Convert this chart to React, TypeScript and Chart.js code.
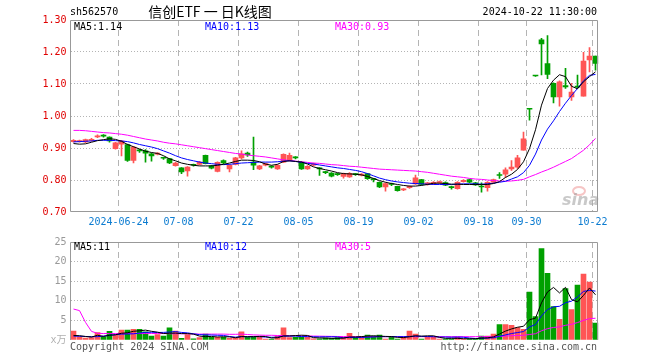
import React, { useEffect, useRef } from 'react';
import { Chart, registerables } from 'chart.js';

Chart.register(...registerables);

// ---------------- data ----------------
const stockCode = 'sh562570';
const chartTitle = '信创ETF 一 日K线图';
const timestamp = '2024-10-22 11:30:00';
const copyrightText = 'Copyright 2024 SINA.COM';
const urlText = 'http://finance.sina.com.cn';

const dates = [
  '06-12','06-13','06-14','06-17','06-18','06-19','06-20','06-21','06-24','06-25','06-26','06-27','06-28',
  '07-01','07-02','07-03','07-04','07-05','07-08','07-09','07-10','07-11','07-12','07-15','07-16','07-17','07-18','07-19','07-22','07-23','07-24','07-25','07-26','07-29','07-30','07-31',
  '08-01','08-02','08-05','08-06','08-07','08-08','08-09','08-12','08-13','08-14','08-15','08-16','08-19','08-20','08-21','08-22','08-23','08-26','08-27','08-28','08-29','08-30',
  '09-02','09-03','09-04','09-05','09-06','09-09','09-10','09-11','09-12','09-13','09-18','09-19','09-20','09-23','09-24','09-25','09-26','09-27','09-30',
  '10-08','10-09','10-10','10-11','10-14','10-15','10-16','10-17','10-18','10-21','10-22',
];

const tickDates = ['06-24','07-08','07-22','08-05','08-19','09-02','09-18','09-30','10-22'];
const tickLabels = ['2024-06-24','07-08','07-22','08-05','08-19','09-02','09-18','09-30','10-22'];

const open = [
  0.920,0.920,0.919,0.924,0.935,0.938,0.934,0.898,0.912,0.911,
  0.861,0.892,0.891,0.882,0.881,0.869,0.867,0.845,0.838,0.828,
  0.847,0.849,0.877,0.844,0.827,0.861,0.835,0.849,0.869,0.884,
  0.856,0.835,0.846,0.841,0.835,0.856,0.861,0.870,0.856,0.835,
  0.846,0.836,0.824,0.822,0.818,0.811,0.810,0.818,0.815,0.820,
  0.802,0.793,0.778,0.787,0.780,0.769,0.776,0.788,0.801,0.786,
  0.788,0.792,0.792,0.777,0.773,0.795,0.801,0.791,0.779,0.776,
  0.793,0.815,0.818,0.835,0.840,0.893,1.022,1.126,1.238,1.164,
  1.102,1.060,1.095,1.060,1.093,1.062,1.175,1.187,
];
const close = [
  0.924,0.923,0.926,0.927,0.938,0.937,0.922,0.916,0.922,0.861,
  0.903,0.891,0.884,0.875,0.882,0.868,0.853,0.853,0.825,0.840,
  0.846,0.856,0.851,0.837,0.855,0.853,0.846,0.869,0.882,0.878,
  0.846,0.844,0.851,0.840,0.846,0.880,0.877,0.869,0.835,0.843,
  0.851,0.835,0.823,0.812,0.817,0.820,0.821,0.817,0.818,0.804,
  0.801,0.778,0.789,0.786,0.767,0.770,0.780,0.807,0.786,0.791,
  0.793,0.793,0.784,0.776,0.793,0.799,0.793,0.785,0.778,0.793,
  0.801,0.814,0.832,0.840,0.869,0.929,1.021,1.125,1.225,1.130,
  1.060,1.107,1.091,1.075,1.090,1.172,1.187,1.164,
];
const high = [
  0.926,0.925,0.928,0.930,0.941,0.942,0.935,0.918,0.924,0.912,
  0.905,0.896,0.895,0.884,0.886,0.872,0.868,0.855,0.839,0.842,
  0.850,0.858,0.878,0.846,0.857,0.863,0.848,0.871,0.891,0.887,
  0.934,0.846,0.853,0.844,0.848,0.882,0.884,0.873,0.858,0.845,
  0.853,0.839,0.827,0.823,0.821,0.822,0.823,0.820,0.820,0.821,
  0.805,0.794,0.791,0.790,0.781,0.773,0.782,0.815,0.802,0.793,
  0.795,0.797,0.794,0.781,0.795,0.801,0.803,0.793,0.791,0.795,
  0.803,0.823,0.838,0.861,0.877,0.950,1.022,1.126,1.243,1.251,
  1.104,1.110,1.149,1.102,1.128,1.199,1.214,1.187,
];
const low = [
  0.918,0.918,0.917,0.921,0.932,0.934,0.918,0.896,0.875,0.858,
  0.853,0.886,0.856,0.859,0.878,0.864,0.851,0.843,0.820,0.812,
  0.843,0.847,0.850,0.835,0.825,0.851,0.825,0.847,0.866,0.874,
  0.832,0.832,0.844,0.837,0.833,0.854,0.859,0.866,0.833,0.833,
  0.844,0.814,0.820,0.810,0.814,0.806,0.808,0.814,0.813,0.802,
  0.794,0.776,0.765,0.782,0.765,0.767,0.774,0.786,0.784,0.784,
  0.786,0.789,0.782,0.771,0.771,0.793,0.791,0.783,0.762,0.765,
  0.791,0.805,0.808,0.830,0.836,0.893,0.987,1.124,1.128,1.117,
  1.041,1.031,1.086,1.049,1.088,1.062,1.138,1.143,
];

const ma5 = [
  0.914,0.912,0.913,0.918,0.923,0.926,0.929,0.927,0.921,0.911,
  0.904,0.897,0.890,0.886,0.883,0.876,0.866,0.860,0.853,0.849,
  0.846,0.844,0.844,0.844,0.846,0.849,0.853,0.858,0.862,0.862,
  0.861,0.857,0.850,0.846,0.849,0.858,0.860,0.858,0.856,0.850,
  0.841,0.836,0.832,0.828,0.823,0.820,0.819,0.818,0.816,0.811,
  0.805,0.798,0.793,0.789,0.786,0.783,0.781,0.781,0.783,0.786,
  0.790,0.790,0.789,0.787,0.787,0.786,0.786,0.786,0.786,0.786,
  0.789,0.795,0.808,0.818,0.833,0.857,0.898,0.957,1.034,1.086,
  1.112,1.129,1.123,1.093,1.085,1.107,1.123,1.138,
];
const ma10 = [
  0.919,0.920,0.921,0.922,0.924,0.924,0.924,0.923,0.922,0.920,
  0.916,0.911,0.907,0.903,0.898,0.891,0.884,0.876,0.869,0.864,
  0.860,0.856,0.853,0.851,0.849,0.848,0.849,0.851,0.853,0.854,
  0.855,0.856,0.856,0.856,0.857,0.859,0.860,0.858,0.855,0.852,
  0.850,0.847,0.844,0.841,0.838,0.836,0.833,0.830,0.826,0.820,
  0.813,0.806,0.801,0.797,0.794,0.792,0.790,0.789,0.788,0.787,
  0.786,0.786,0.786,0.786,0.787,0.788,0.788,0.788,0.787,0.788,
  0.790,0.793,0.796,0.803,0.810,0.823,0.846,0.881,0.925,0.959,
  0.985,1.014,1.040,1.064,1.086,1.110,1.127,1.130,
];
const ma30 = [
  0.955,0.955,0.954,0.952,0.950,0.948,0.947,0.945,0.943,0.940,
  0.936,0.932,0.928,0.925,0.922,0.918,0.915,0.913,0.910,0.907,
  0.904,0.901,0.898,0.895,0.892,0.889,0.886,0.883,0.881,0.878,
  0.876,0.874,0.872,0.869,0.866,0.863,0.861,0.859,0.857,0.855,
  0.853,0.852,0.850,0.848,0.847,0.845,0.843,0.842,0.840,0.838,
  0.836,0.834,0.833,0.832,0.831,0.830,0.829,0.828,0.826,0.824,
  0.821,0.818,0.815,0.812,0.810,0.808,0.805,0.803,0.802,0.800,
  0.798,0.797,0.796,0.797,0.799,0.802,0.810,0.817,0.825,0.832,
  0.840,0.849,0.858,0.867,0.880,0.893,0.910,0.930,
];

const volume = [
  2.25,0.8,0.5,0.6,1.9,0.8,2.2,1.2,2.5,2.5,
  2.75,2.75,2.1,1.0,1.4,1.0,3.1,2.25,0.4,1.4,
  0.33,0.6,1.5,0.7,0.7,0.7,0.4,0.4,2.1,0.7,
  0.7,0.7,0.25,0.25,1.0,3.1,0.6,0.7,0.7,0.7,
  0.3,0.3,0.5,0.4,0.6,0.67,1.67,0.58,0.83,1.25,
  1.0,1.25,0.25,0.67,0.25,0.67,2.25,1.5,0.25,0.67,
  0.67,0.25,0.25,0.25,0.67,0.25,0.25,0.25,1.0,1.0,
  1.5,3.92,3.92,3.75,3.17,2.75,12.25,6.0,23.3,17.0,
  8.5,5.25,13.1,7.75,14.0,16.8,14.75,4.33,
];
const volMa5 = [
  1.17,1.1,0.9,0.75,1.21,0.92,1.2,1.34,1.72,1.84,
  2.23,2.34,2.52,2.22,2.0,1.65,1.72,1.75,1.63,1.63,
  1.5,1.0,0.85,0.91,0.77,0.84,0.8,0.58,0.86,0.86,
  0.86,0.92,0.89,0.52,0.58,1.06,1.04,1.13,1.22,1.16,
  0.6,0.54,0.5,0.44,0.42,0.49,0.77,0.78,0.87,1.0,
  1.07,0.98,0.92,0.88,0.68,0.62,0.82,1.07,0.98,1.07,
  1.07,0.67,0.42,0.42,0.42,0.33,0.33,0.33,0.48,0.55,
  0.8,1.53,2.27,2.82,3.25,3.5,5.17,5.58,9.49,12.26,
  13.41,12.01,13.43,10.32,9.72,11.38,13.28,11.53,
];
const volMa10 = [
  1.0,0.95,0.9,0.85,0.85,1.0,1.2,1.35,1.5,1.53,
  1.58,1.77,1.93,1.97,1.92,1.94,2.03,2.14,1.93,1.82,
  1.58,1.36,1.3,1.27,1.2,1.17,0.9,0.72,0.89,0.82,
  0.85,0.86,0.74,0.69,0.72,0.96,0.98,1.01,0.87,0.87,
  0.83,0.79,0.82,0.83,0.79,0.55,0.66,0.64,0.66,0.71,
  0.78,0.88,0.85,0.88,0.84,0.85,0.9,1.0,0.93,0.88,
  0.85,0.75,0.75,0.7,0.75,0.7,0.5,0.38,0.45,0.49,
  0.57,0.93,1.3,1.65,1.9,2.15,3.35,3.93,6.16,7.76,
  8.46,8.59,9.51,9.91,10.99,12.4,12.65,12.48,
];
const volMa30 = [
  7.9,7.5,4.5,2.2,1.7,1.65,1.65,1.65,1.65,1.65,
  1.65,1.65,1.65,1.65,1.65,1.65,1.6,1.6,1.6,1.6,
  1.55,1.5,1.5,1.5,1.5,1.5,1.45,1.45,1.5,1.4,
  1.3,1.25,1.2,1.2,1.15,1.15,1.1,1.1,1.05,1.05,
  1.0,0.98,0.95,0.92,0.9,0.88,0.87,0.86,0.85,0.85,
  0.85,0.85,0.85,0.85,0.85,0.85,0.85,0.85,0.85,0.85,
  0.85,0.85,0.85,0.85,0.85,0.85,0.85,0.85,0.85,0.85,
  0.85,0.9,1.0,1.1,1.15,1.2,1.4,1.6,2.35,2.9,
  3.2,3.35,3.75,4.0,4.45,5.0,5.45,5.55,
];

// ---------------- style ----------------
const MONO = '"DejaVu Sans Mono", "Noto Sans CJK SC", monospace';
const UP = '#ff5555';
const DOWN = '#00a000';
const GRID = '#b4b4b4';
const FRAME = '#999999';
const C_MA5 = '#000000';
const C_MA10 = '#0000ff';
const C_MA30 = '#ff00ff';

const tickIndex = tickDates.map((d) => dates.indexOf(d));
const candleColors = dates.map((_, i) => (close[i] >= open[i] ? UP : DOWN));
const last = dates.length - 1;

function xScale(showLabels: boolean) {
  return {
    type: 'linear',
    min: -0.5,
    max: dates.length - 0.5,
    offset: false,
    grid: { offset: false, color: GRID, lineWidth: 1, drawTicks: false },
    border: { display: false, dash: [6, 4] },
    afterBuildTicks: (s: any) => {
      s.ticks = tickIndex.map((i) => ({ value: i - 0.5 }));
    },
    afterFit: (s: any) => {
      s.height = 20;
    },
    ticks: {
      display: showLabels,
      autoSkip: false,
      maxRotation: 0,
      padding: 4,
      color: '#0b7bd0',
      font: { family: MONO, size: 10 },
      callback: (_v: any, idx: number) => tickLabels[idx],
    },
  };
}

function lineDs(values: number[], color: string) {
  return {
    type: 'line',
    data: values.map((v, i) => ({ x: i, y: v })),
    borderColor: color,
    borderWidth: 1,
    pointRadius: 0,
    fill: false,
    tension: 0,
    order: 0,
  };
}

function drawFrame(ctx: CanvasRenderingContext2D, ca: any, bottom: boolean) {
  const l = Math.floor(ca.left) + 0.5;
  const r = Math.floor(ca.right) - 0.5;
  const t = Math.floor(ca.top) + 0.5;
  const b = Math.floor(ca.bottom) - 0.5;
  ctx.save();
  ctx.strokeStyle = FRAME;
  ctx.lineWidth = 1;
  ctx.beginPath();
  ctx.moveTo(l, bottom ? b : ca.bottom);
  ctx.lineTo(l, t);
  ctx.lineTo(r, t);
  ctx.lineTo(r, bottom ? b : ca.bottom);
  if (bottom) ctx.lineTo(l, b);
  ctx.stroke();
  ctx.restore();
}

const mainOverlay = {
  id: 'mainOverlay',
  beforeDatasetsDraw(chart: any) {
    const { ctx } = chart;
    ctx.save();
    ctx.strokeStyle = 'rgba(238,150,150,0.55)';
    ctx.lineWidth = 2;
    ctx.beginPath();
    ctx.ellipse(579, 191, 6, 4, 0, 0, Math.PI * 2);
    ctx.stroke();
    ctx.font = 'italic bold 16px "DejaVu Sans"';
    ctx.fillStyle = 'rgba(165,165,165,0.6)';
    ctx.textAlign = 'left';
    ctx.textBaseline = 'alphabetic';
    ctx.fillText('sina', 562, 205);
    ctx.restore();
  },
  afterDraw(chart: any) {
    const { ctx, chartArea } = chart;
    drawFrame(ctx, chartArea, true);
    ctx.save();
    ctx.textBaseline = 'middle';
    ctx.fillStyle = '#000';
    ctx.font = `10px ${MONO}`;
    ctx.textAlign = 'left';
    ctx.fillText(stockCode, 70, 12);
    ctx.textAlign = 'right';
    ctx.fillText(timestamp, 597, 12);
    ctx.font = '14px "Noto Sans CJK SC"';
    ctx.textAlign = 'center';
    ctx.fillText(chartTitle, 210, 12);
    ctx.font = `10px ${MONO}`;
    ctx.textAlign = 'left';
    ctx.fillStyle = C_MA5;
    ctx.fillText(`MA5:${ma5[last].toFixed(2)}`, 74, 27);
    ctx.fillStyle = C_MA10;
    ctx.fillText(`MA10:${ma10[last].toFixed(2)}`, 205, 27);
    ctx.fillStyle = C_MA30;
    ctx.fillText(`MA30:${ma30[last].toFixed(2)}`, 335, 27);
    ctx.restore();
  },
};

const volOverlay = {
  id: 'volOverlay',
  afterDraw(chart: any) {
    const { ctx, chartArea } = chart;
    drawFrame(ctx, chartArea, false);
    ctx.save();
    ctx.textBaseline = 'middle';
    ctx.font = `10px ${MONO}`;
    ctx.textAlign = 'left';
    ctx.fillStyle = C_MA5;
    ctx.fillText(`MA5:${Math.floor(volMa5[last])}`, 74, 15);
    ctx.fillStyle = C_MA10;
    ctx.fillText(`MA10:${Math.floor(volMa10[last])}`, 205, 15);
    ctx.fillStyle = C_MA30;
    ctx.fillText(`MA30:${Math.floor(volMa30[last])}`, 335, 15);
    ctx.fillStyle = '#555';
    ctx.fillText(copyrightText, 70, 115);
    ctx.textAlign = 'right';
    ctx.fillText(urlText, 597, 115);
    ctx.restore();
  },
};

function mainConfig(): any {
  const bodies = dates.map((_, i) => ({ x: i, y: [Math.min(open[i], close[i]), Math.max(open[i], close[i])] }));
  const wicks = dates.map((_, i) => ({ x: i, y: [low[i], high[i]] }));
  return {
    type: 'bar',
    data: {
      datasets: [
        lineDs(ma5, C_MA5),
        lineDs(ma10, C_MA10),
        lineDs(ma30, C_MA30),
        { type: 'bar', data: bodies, backgroundColor: candleColors, barThickness: 5, minBarLength: 1, grouped: false, order: 1 },
        { type: 'bar', data: wicks, backgroundColor: candleColors, barThickness: 1, minBarLength: 1, grouped: false, order: 2 },
      ],
    },
    options: {
      responsive: false,
      animation: false,
      devicePixelRatio: 1,
      events: [],
      layout: { padding: { top: 20, right: 61.5, bottom: 0, left: 0 } },
      plugins: { legend: { display: false }, tooltip: { enabled: false } },
      scales: {
        x: xScale(true),
        y: {
          type: 'linear',
          min: 0.7,
          max: 1.3,
          beginAtZero: false,
          afterFit: (s: any) => {
            s.width = 70.5;
          },
          grid: {
            drawTicks: false,
            color: (c: any) => {
              const v = c.tick ? c.tick.value : 0;
              return Math.abs(v - 0.7) < 1e-6 || Math.abs(v - 1.3) < 1e-6 ? 'rgba(0,0,0,0)' : GRID;
            },
          },
          border: { display: false, dash: [1, 2] },
          ticks: {
            stepSize: 0.1,
            padding: 4,
            color: '#e00000',
            font: { family: MONO, size: 10 },
            callback: (v: any) => Number(v).toFixed(2),
          },
        },
      },
    },
    plugins: [mainOverlay],
  };
}

function volConfig(): any {
  const volColors = candleColors;
  return {
    type: 'bar',
    data: {
      datasets: [
        lineDs(volMa5, C_MA5),
        lineDs(volMa10, C_MA10),
        lineDs(volMa30, C_MA30),
        {
          type: 'bar',
          data: volume.map((v, i) => ({ x: i, y: v })),
          backgroundColor: volColors,
          barThickness: 5,
          grouped: false,
          order: 1,
        },
      ],
    },
    options: {
      responsive: false,
      animation: false,
      devicePixelRatio: 1,
      events: [],
      layout: { padding: { top: 8, right: 61.5, bottom: 0, left: 0 } },
      plugins: { legend: { display: false }, tooltip: { enabled: false } },
      scales: {
        x: xScale(false),
        y: {
          type: 'linear',
          min: 0,
          max: 25,
          afterFit: (s: any) => {
            s.width = 70.5;
          },
          grid: {
            drawTicks: false,
            color: (c: any) => {
              const v = c.tick ? c.tick.value : 0;
              return v === 0 || v === 25 ? 'rgba(0,0,0,0)' : GRID;
            },
          },
          border: { display: false, dash: [1, 2] },
          ticks: {
            stepSize: 5,
            padding: 4,
            color: (c: any) => (c.tick && c.tick.value === 0 ? '#b0b0b0' : '#999999'),
            font: { family: MONO, size: 10 },
            callback: (v: any) => (Number(v) === 0 ? 'x万' : String(v)),
          },
        },
      },
    },
    plugins: [volOverlay],
  };
}

export default function App() {
  const mainRef = useRef<HTMLCanvasElement>(null);
  const volRef = useRef<HTMLCanvasElement>(null);

  useEffect(() => {
    const c1 = new Chart(mainRef.current as HTMLCanvasElement, mainConfig());
    const c2 = new Chart(volRef.current as HTMLCanvasElement, volConfig());
    return () => {
      c1.destroy();
      c2.destroy();
    };
  }, []);

  return (
    <div style={{ position: 'absolute', left: 0, top: 0, width: 660, height: 360, background: '#fff' }}>
      <canvas ref={mainRef} width={660} height={232} style={{ position: 'absolute', left: 0, top: 0 }} />
      <canvas ref={volRef} width={660} height={128} style={{ position: 'absolute', left: 0, top: 232 }} />
    </div>
  );
}
